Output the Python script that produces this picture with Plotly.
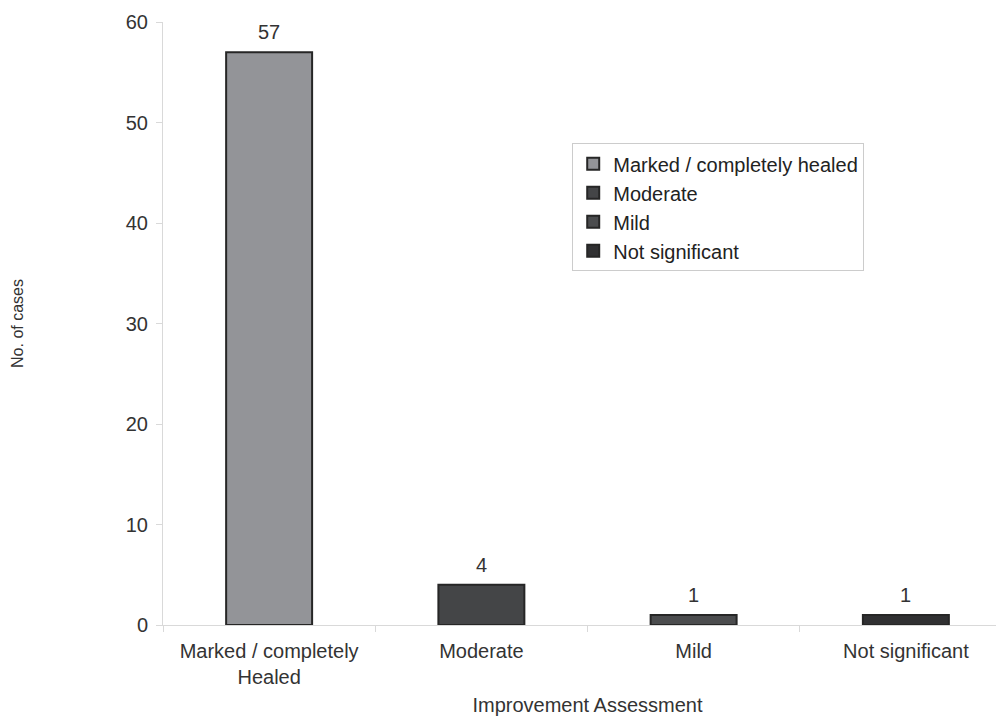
import plotly.graph_objects as go

categories = ["Marked / completely<br>Healed", "Moderate", "Mild", "Not significant"]
legend_names = ["Marked / completely healed", "Moderate", "Mild", "Not significant"]
values = [57, 4, 1, 1]
colors = ["#939498", "#444547", "#4b4c4e", "#303032"]

fig = go.Figure()
for cat, name, v, c in zip(categories, legend_names, values, colors):
    fig.add_trace(go.Bar(
        x=[cat], y=[v], name=name,
        marker=dict(color=c, line=dict(color="#262626", width=2)),
        width=0.405,
    ))
    fig.add_annotation(
        x=cat, y=v, text=str(v), showarrow=False,
        xanchor="center", yanchor="bottom", yshift=7,
        font=dict(size=20, color="#333333"),
    )

fig.update_layout(
    width=1004, height=720,
    margin=dict(l=155, r=0, t=14, b=103),
    paper_bgcolor="white", plot_bgcolor="white",
    font=dict(family="Liberation Sans, Arial, sans-serif", size=20, color="#333333"),
    barmode="overlay",
    showlegend=True,
    legend=dict(
        x=0.482, y=0.799, xanchor="left", yanchor="top",
        bgcolor="white", bordercolor="#cccccc", borderwidth=1,
        font=dict(size=20, color="#222222"),
        itemwidth=30, tracegroupgap=0,
    ),
    xaxis=dict(
        categoryorder="array", categoryarray=categories,
        range=[-0.5, 3.5],
        showline=True, linecolor="#d9d9d9", linewidth=1,
        ticks="outside", tickson="boundaries", ticklen=6, tickcolor="#d9d9d9",
        ticklabelstandoff=8,
        tickfont=dict(size=20, color="#333333"),
        title=dict(text="Improvement Assessment", font=dict(size=20, color="#333333"), standoff=10),
        showgrid=False,
    ),
    yaxis=dict(
        range=[0, 60], dtick=10,
        showline=True, linecolor="#d9d9d9", linewidth=1,
        ticks="outside", ticklen=6, tickcolor="#d9d9d9",
        ticklabelstandoff=4,
        tickfont=dict(size=20, color="#333333"),
        title=dict(text="No. of cases", font=dict(size=16, color="#333333"), standoff=98),
        showgrid=False, zeroline=False,
    ),
)

fig.write_html("out.html")
